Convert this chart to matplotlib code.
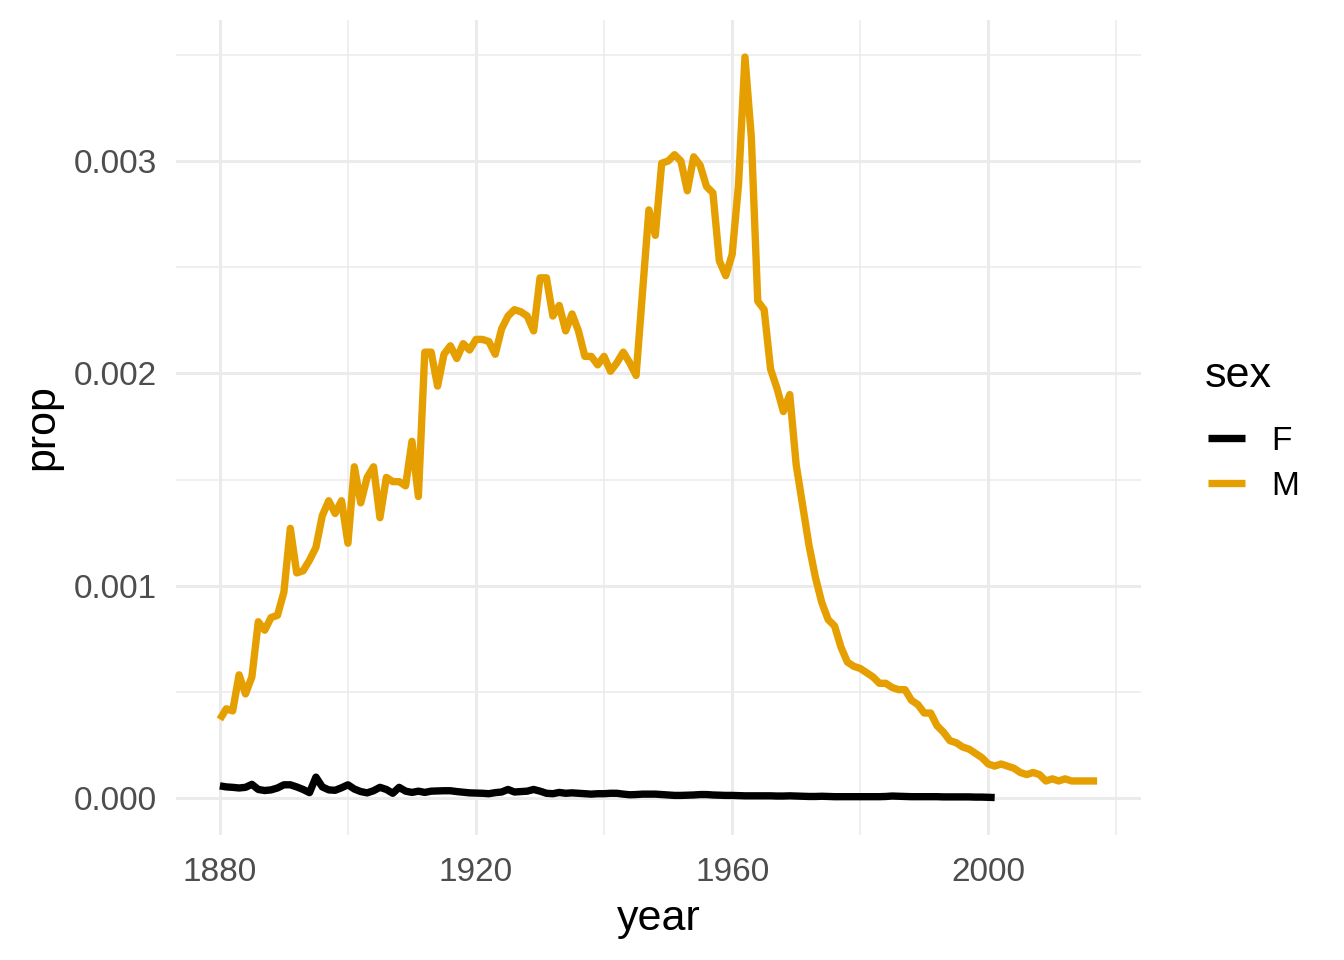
import numpy as np
import matplotlib
matplotlib.use("Agg")
import matplotlib.pyplot as plt
from matplotlib.ticker import FixedLocator

plt.rcParams['font.family'] = ['Liberation Sans', 'DejaVu Sans']

# data
years_m = np.arange(1880, 2018)
prop_m = [
    0.00037, 0.00042, 0.00041, 0.00058, 0.00049, 0.00057, 0.00083, 0.00079, 0.00085, 0.00086,  # 1880s
    0.00097, 0.00127, 0.00106, 0.00107, 0.00112, 0.00118, 0.00133, 0.00140, 0.00134, 0.00140,  # 1890s
    0.00120, 0.00156, 0.00139, 0.00151, 0.00156, 0.00132, 0.00151, 0.00149, 0.00149, 0.00147,  # 1900s
    0.00168, 0.00142, 0.00210, 0.00210, 0.00194, 0.00209, 0.00213, 0.00207, 0.00214, 0.00211,  # 1910s
    0.00216, 0.00216, 0.00215, 0.00209, 0.00221, 0.00227, 0.00230, 0.00229, 0.00227, 0.00220,  # 1920s
    0.00245, 0.00245, 0.00227, 0.00232, 0.00220, 0.00228, 0.00220, 0.00208, 0.00208, 0.00204,  # 1930s
    0.00208, 0.00201, 0.00205, 0.00210, 0.00205, 0.00199, 0.00238, 0.00277, 0.00265, 0.00299,  # 1940s
    0.00300, 0.00303, 0.00300, 0.00286, 0.00302, 0.00298, 0.00288, 0.00285, 0.00253, 0.00246,  # 1950s
    0.00256, 0.00289, 0.00349, 0.00311, 0.00234, 0.00230, 0.00202, 0.00193, 0.00182, 0.00190,  # 1960s
    0.00157, 0.00138, 0.00119, 0.00104, 0.00092, 0.00084, 0.00081, 0.00071, 0.00064, 0.00062,  # 1970s
    0.00061, 0.00059, 0.00057, 0.00054, 0.00054, 0.00052, 0.00051, 0.00051, 0.00046, 0.00044,  # 1980s
    0.00040, 0.00040, 0.00034, 0.00031, 0.00027, 0.00026, 0.00024, 0.00023, 0.00021, 0.00019,  # 1990s
    0.00016, 0.00015, 0.00016, 0.00015, 0.00014, 0.00012, 0.00011, 0.00012, 0.00011, 0.00008,  # 2000s
    0.00009, 0.00008, 0.00009, 0.00008, 0.00008, 0.00008, 0.00008, 0.00008,                    # 2010s
]

years_f = np.arange(1880, 2002)
prop_f = [
    0.000057, 0.000052, 0.000050, 0.000047, 0.000050, 0.000064, 0.000040, 0.000035, 0.000038, 0.000047,
    0.000062, 0.000062, 0.000052, 0.000040, 0.000025, 0.000098, 0.000052, 0.000038, 0.000036, 0.000048,
    0.000062, 0.000042, 0.000030, 0.000024, 0.000034, 0.000050, 0.000040, 0.000022, 0.000050, 0.000032,
    0.000026, 0.000032, 0.000026, 0.000032, 0.000033, 0.000034, 0.000034, 0.000030, 0.000027, 0.000024,
    0.000023, 0.000022, 0.000020, 0.000025, 0.000028, 0.000040, 0.000028, 0.000030, 0.000032, 0.000040,
    0.000032, 0.000022, 0.000020, 0.000026, 0.000022, 0.000024, 0.000022, 0.000020, 0.000018, 0.000020,
    0.000020, 0.000022, 0.000022, 0.000018, 0.000015, 0.000016, 0.000018, 0.000018, 0.000018, 0.000016,
    0.000014, 0.000012, 0.000012, 0.000013, 0.000014, 0.000016, 0.000016, 0.000014, 0.000013, 0.000012,
    0.000012, 0.000011, 0.000010, 0.000010, 0.000010, 0.000010, 0.000010, 0.000009, 0.000009, 0.000010,
    0.000009, 0.000008, 0.000007, 0.000007, 0.000008, 0.000007, 0.000006, 0.000006, 0.000006, 0.000006,
    0.000006, 0.000006, 0.000006, 0.000006, 0.000007, 0.000009, 0.000008, 0.000007, 0.000006, 0.000006,
    0.000006, 0.000006, 0.000006, 0.000005, 0.000005, 0.000005, 0.000005, 0.000005, 0.000004, 0.000004,
    0.000003, 0.000002,
]

x_major = [1880, 1920, 1960, 2000]
x_minor = [1900, 1940, 1980, 2020]
y_major = [0.0, 0.001, 0.002, 0.003]
y_minor = [0.0005, 0.0015, 0.0025, 0.0035]
y_labels = ["0.000", "0.001", "0.002", "0.003"]

grid_col = "#EBEBEB"
text_col = "#4D4D4D"
lw = 5.3

fig = plt.figure(figsize=(13.44, 9.6), dpi=100)
ax = fig.add_axes([176 / 1344, 1 - 835 / 960, (1141 - 176) / 1344, (835 - 20) / 960])

ax.plot(years_f, prop_f, color="black", lw=lw, label="F", solid_capstyle="butt", zorder=3)
ax.plot(years_m, prop_m, color="#E69F00", lw=lw, label="M", solid_capstyle="butt", zorder=3)

xr = 2017 - 1880
ax.set_xlim(1880 - 0.05 * xr, 2017 + 0.05 * xr)
yr = max(prop_m)
ax.set_ylim(-0.05 * yr, yr * 1.05)

ax.xaxis.set_major_locator(FixedLocator(x_major))
ax.xaxis.set_minor_locator(FixedLocator(x_minor))
ax.yaxis.set_major_locator(FixedLocator(y_major))
ax.yaxis.set_minor_locator(FixedLocator(y_minor))
ax.set_yticklabels(y_labels)

ax.grid(which="major", color=grid_col, lw=2.2, zorder=0)
ax.grid(which="minor", color=grid_col, lw=1.1, zorder=0)
ax.set_axisbelow(True)
for s in ax.spines.values():
    s.set_visible(False)
ax.tick_params(which="both", length=0)
ax.tick_params(axis="x", labelsize=24, labelcolor=text_col, pad=16)
ax.tick_params(axis="y", labelsize=24, labelcolor=text_col, pad=14)

ax.set_xlabel("year", fontsize=31, labelpad=8)
ax.set_ylabel("prop", fontsize=31, labelpad=8)

# legend: title as its own text, keys below it
fig.text(1205 / 1344, 1 - 387 / 960, "sex", fontsize=31, ha="left", va="baseline")
leg = fig.legend(loc="upper left", bbox_to_anchor=(1178 / 1344, 1 - 396 / 960),
                 frameon=False, fontsize=24,
                 handlelength=1.1, handletextpad=0.8, labelspacing=0.42)
for h in leg.get_lines():
    h.set_linewidth(lw)

plt.savefig("out.png", dpi=100)
